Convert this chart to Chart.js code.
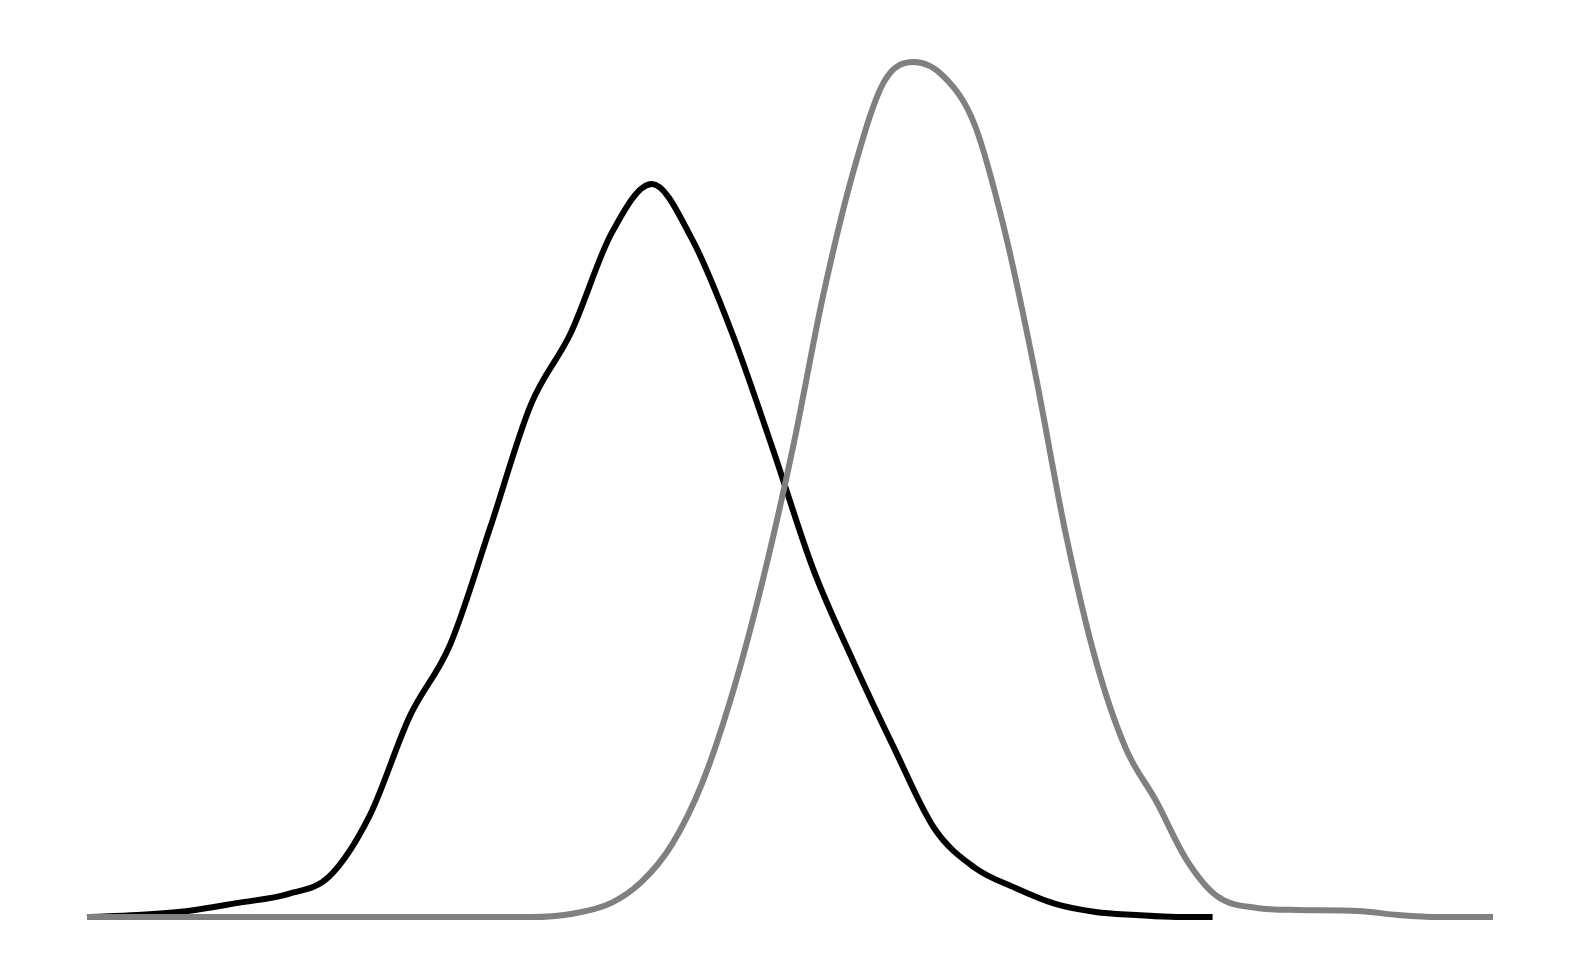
<!DOCTYPE html>
<html>
<head>
<meta charset="utf-8">
<script src="https://cdn.jsdelivr.net/npm/chart.js@4"></script>
<style>
html,body{margin:0;padding:0;background:#fff}
#wrap{width:1580px;height:980px;position:relative}
</style>
</head>
<body>
<div id="wrap"><canvas id="densityChart"></canvas></div>
<script>
// density curves, x and y in arbitrary units
let blackX = [0,5,10,15,20,24,28,32,36,40,44,48,52,56,60,64,68,72,76,80,84,88,92,96,100,104,108,111.6]
let blackY = [0,0.02,0.06,0.14,0.23,0.40,1.0,1.99,2.70,3.87,5.08,5.80,6.78,7.27,6.72,5.78,4.64,3.45,2.53,1.68,0.88,0.49,0.29,0.13,0.05,0.02,0,0]

let grayX = [0,20,44,48,52,55,58,61,64,67,70,73,76,79,82,85,88,91,94,97,100,103,106,109,112,116,120,126,130,134,139.4]
let grayY = [0,0,0,0.03,0.14,0.35,0.72,1.33,2.22,3.34,4.66,6.17,7.40,8.28,8.48,8.33,7.86,6.80,5.40,3.82,2.55,1.67,1.15,0.57,0.21,0.09,0.07,0.06,0.02,0,0]

function toPoints(xs,ys){
let pts=[]
for(let i=0;i<xs.length;i++){
pts.push({x:xs[i],y:ys[i]})
}
return pts
}

let ctx = document.getElementById("densityChart")

new Chart(ctx,{
type:"line",
data:{
datasets:[
{
label:"gray",
data:toPoints(grayX,grayY),
borderColor:"#808080",
borderWidth:6,
borderCapStyle:"butt",
pointRadius:0,
fill:false,
cubicInterpolationMode:"monotone",
clip:false,
order:0
},
{
label:"black",
data:toPoints(blackX,blackY),
borderColor:"#000000",
borderWidth:6,
borderCapStyle:"butt",
pointRadius:0,
fill:false,
cubicInterpolationMode:"monotone",
clip:false,
order:1
}
]
},
options:{
responsive:true,
maintainAspectRatio:false,
animation:false,
layout:{padding:{left:87,right:87,top:62,bottom:63}},
plugins:{legend:{display:false},tooltip:{enabled:false}},
scales:{
x:{type:"linear",min:0,max:139.4,display:false},
y:{min:0,max:8.48,display:false}
}
}
})
</script>
</body>
</html>
